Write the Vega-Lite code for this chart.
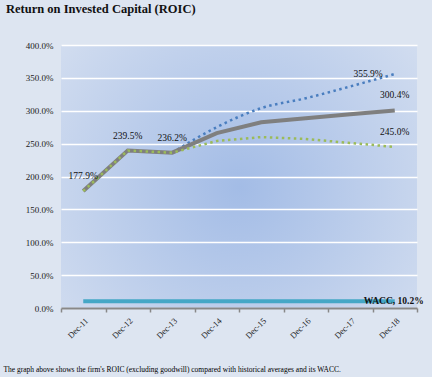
{
  "$schema": "https://vega.github.io/schema/vega-lite/v6.json",
  "width": 356,
  "height": 263,
  "autosize": {"type": "none"},
  "padding": {"left": 61, "top": 45, "right": 15, "bottom": 69},
  "background": "#dde5f1",
  "title": {
    "text": "Return on Invested Capital (ROIC)",
    "anchor": "start",
    "frame": "group",
    "dx": -55,
    "offset": 26,
    "font": "Liberation Serif",
    "fontSize": 12.5,
    "fontWeight": "bold",
    "color": "#111111"
  },
  "config": {
    "view": {
      "stroke": null,
      "fill": {
        "gradient": "radial",
        "x1": 0.5, "y1": 0.53, "r1": 0,
        "x2": 0.5, "y2": 0.53, "r2": 0.75,
        "stops": [
          {"offset": 0, "color": "#a3bce6"},
          {"offset": 1, "color": "#d9e2f1"}
        ]
      }
    },
    "axis": {"labelFont": "Liberation Serif", "titleFont": "Liberation Serif"},
    "text": {"font": "Liberation Serif"}
  },
  "data": {
    "values": [
      {"date": "Dec-11", "series": "ROIC", "value": 177.9},
      {"date": "Dec-12", "series": "ROIC", "value": 239.5},
      {"date": "Dec-13", "series": "ROIC", "value": 236.2},
      {"date": "Dec-14", "series": "ROIC", "value": 266.0},
      {"date": "Dec-15", "series": "ROIC", "value": 282.5},
      {"date": "Dec-16", "series": "ROIC", "value": 288.5},
      {"date": "Dec-17", "series": "ROIC", "value": 294.5},
      {"date": "Dec-18", "series": "ROIC", "value": 300.4},
      {"date": "Dec-13", "series": "High", "value": 236.2},
      {"date": "Dec-14", "series": "High", "value": 275.0},
      {"date": "Dec-15", "series": "High", "value": 304.0},
      {"date": "Dec-16", "series": "High", "value": 319.0},
      {"date": "Dec-17", "series": "High", "value": 337.0},
      {"date": "Dec-18", "series": "High", "value": 355.9},
      {"date": "Dec-11", "series": "Average", "value": 177.9},
      {"date": "Dec-12", "series": "Average", "value": 239.5},
      {"date": "Dec-13", "series": "Average", "value": 236.2},
      {"date": "Dec-14", "series": "Average", "value": 254.0},
      {"date": "Dec-15", "series": "Average", "value": 260.0},
      {"date": "Dec-16", "series": "Average", "value": 257.0},
      {"date": "Dec-17", "series": "Average", "value": 251.0},
      {"date": "Dec-18", "series": "Average", "value": 245.0},
      {"date": "Dec-11", "series": "WACC", "value": 10.2},
      {"date": "Dec-12", "series": "WACC", "value": 10.2},
      {"date": "Dec-13", "series": "WACC", "value": 10.2},
      {"date": "Dec-14", "series": "WACC", "value": 10.2},
      {"date": "Dec-15", "series": "WACC", "value": 10.2},
      {"date": "Dec-16", "series": "WACC", "value": 10.2},
      {"date": "Dec-17", "series": "WACC", "value": 10.2},
      {"date": "Dec-18", "series": "WACC", "value": 10.2}
    ]
  },
  "encoding": {
    "x": {
      "field": "date",
      "type": "ordinal",
      "sort": null,
      "scale": {
        "type": "band",
        "domain": ["Dec-11", "Dec-12", "Dec-13", "Dec-14", "Dec-15", "Dec-16", "Dec-17", "Dec-18"],
        "paddingInner": 0,
        "paddingOuter": 0
      },
      "axis": {
        "title": "The graph above shows the firm's ROIC (excluding goodwill) compared with historical averages and its WACC.",
        "titleFontSize": 7.5,
        "titleFontWeight": "normal",
        "titleColor": "#000000",
        "titleAnchor": "start",
        "titleAlign": "left",
        "titleBaseline": "middle",
        "titleX": -58,
        "titleY": 61,
        "labelAngle": -45,
        "labelFontSize": 8.5,
        "labelColor": "#222222",
        "labelPadding": 4,
        "tickBand": "extent",
        "domainColor": "#888888",
        "domainWidth": 2,
        "tickColor": "#888888",
        "tickWidth": 1.5,
        "tickSize": 4,
        "grid": false
      }
    },
    "y": {
      "field": "value",
      "type": "quantitative",
      "scale": {"domain": [0, 400], "nice": false},
      "axis": {
        "title": null,
        "values": [0, 50, 100, 150, 200, 250, 300, 350, 400],
        "labelExpr": "format(datum.value, '.1f') + '%'",
        "labelFontSize": 9,
        "labelColor": "#222222",
        "labelPadding": 8,
        "ticks": false,
        "domain": false,
        "grid": true,
        "gridColor": "#ffffff",
        "gridWidth": 1.5
      }
    }
  },
  "layer": [
    {
      "transform": [{"filter": "datum.series == 'WACC'"}],
      "mark": {"type": "line", "color": "#45a7c6", "strokeWidth": 4}
    },
    {
      "transform": [{"filter": "datum.series == 'High'"}],
      "mark": {"type": "line", "color": "#4a7ebf", "strokeWidth": 2.5, "strokeDash": [2.5, 3.5], "interpolate": "monotone"}
    },
    {
      "transform": [{"filter": "datum.series == 'ROIC'"}],
      "mark": {"type": "line", "color": "#7f7f7f", "strokeWidth": 4}
    },
    {
      "transform": [{"filter": "datum.series == 'Average'"}],
      "mark": {"type": "line", "color": "#9bbb59", "strokeWidth": 2.5, "strokeDash": [2.5, 3.5]}
    },
    {
      "transform": [
        {"filter": "(datum.series == 'ROIC' && datum.date != 'Dec-14' && datum.date != 'Dec-15' && datum.date != 'Dec-16' && datum.date != 'Dec-17') || (datum.series == 'Average' && datum.date == 'Dec-18')"},
        {"calculate": "format(datum.value, '.1f') + '%'", "as": "label"}
      ],
      "mark": {"type": "text", "dy": -15, "fontSize": 9.5, "color": "#111111", "baseline": "middle"},
      "encoding": {"text": {"field": "label"}}
    },
    {
      "transform": [
        {"filter": "datum.series == 'High' && datum.date == 'Dec-18'"},
        {"calculate": "format(datum.value, '.1f') + '%'", "as": "label"}
      ],
      "mark": {"type": "text", "dx": -12, "dy": 0, "align": "right", "fontSize": 9.5, "color": "#111111", "baseline": "middle"},
      "encoding": {"text": {"field": "label"}}
    },
    {
      "transform": [
        {"filter": "datum.series == 'WACC' && datum.date == 'Dec-18'"},
        {"calculate": "'WACC, ' + format(datum.value, '.1f') + '%'", "as": "label"}
      ],
      "mark": {"type": "text", "align": "center", "dx": -1, "fontSize": 9.5, "fontWeight": "bold", "color": "#111111", "baseline": "middle"},
      "encoding": {"text": {"field": "label"}}
    }
  ]
}
